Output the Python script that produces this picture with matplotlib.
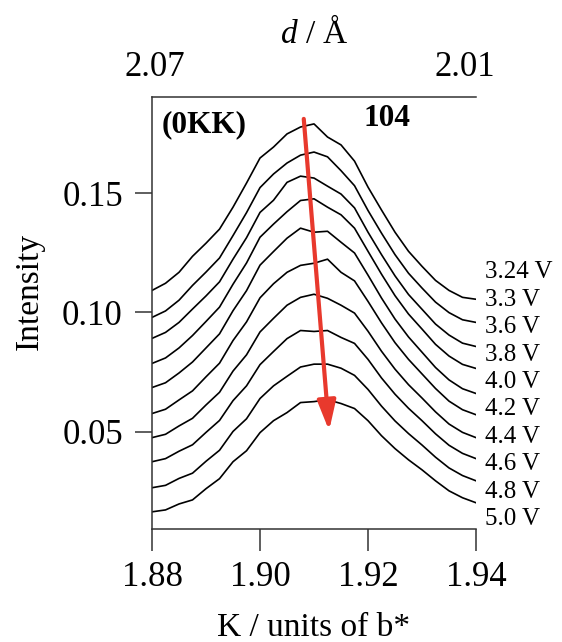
import matplotlib
matplotlib.use("Agg")
import matplotlib.pyplot as plt
import numpy as np

plt.rcParams['font.family'] = 'Liberation Serif'
plt.rcParams['mathtext.fontset'] = 'custom'
plt.rcParams['mathtext.rm'] = 'Liberation Serif'
plt.rcParams['mathtext.it'] = 'Liberation Serif:italic'

# K positions (units of b*)
k_vals = [1.8800, 1.8825, 1.8850, 1.8875, 1.8900, 1.8925, 1.8950, 1.8975,
          1.9000, 1.9025, 1.9050, 1.9075, 1.9100, 1.9125, 1.9150, 1.9175,
          1.9200, 1.9225, 1.9250, 1.9275, 1.9300, 1.9325, 1.9350, 1.9375, 1.9400]

voltages = ['3.24 V', '3.3 V', '3.6 V', '3.8 V', '4.0 V',
            '4.2 V', '4.4 V', '4.6 V', '4.8 V', '5.0 V']

# intensity profiles (offset stack), top to bottom
i_324 = [0.1092, 0.1122, 0.1168, 0.1235, 0.1290, 0.1349, 0.1441, 0.1542, 0.1647, 0.1693,
         0.1748, 0.1777, 0.1790, 0.1735, 0.1702, 0.1634, 0.1525, 0.1429, 0.1336, 0.1256,
         0.1193, 0.1134, 0.1092, 0.1063, 0.1055]
i_33 = [0.0979, 0.1006, 0.1051, 0.1113, 0.1169, 0.1228, 0.1322, 0.1418, 0.1523, 0.1580,
        0.1626, 0.1659, 0.1672, 0.1652, 0.1594, 0.1531, 0.1427, 0.1332, 0.1242, 0.1164,
        0.1102, 0.1043, 0.0999, 0.0969, 0.0958]
i_36 = [0.0891, 0.0916, 0.0958, 0.1014, 0.1069, 0.1128, 0.1223, 0.1313, 0.1419, 0.1470,
        0.1545, 0.1571, 0.1563, 0.1529, 0.1496, 0.1438, 0.1336, 0.1242, 0.1153, 0.1075,
        0.1013, 0.0951, 0.0905, 0.0871, 0.0857]
i_38 = [0.0786, 0.0809, 0.0851, 0.0903, 0.0962, 0.1022, 0.1118, 0.1207, 0.1315, 0.1370,
        0.1422, 0.1469, 0.1476, 0.1441, 0.1409, 0.1353, 0.1256, 0.1160, 0.1070, 0.0993,
        0.0930, 0.0866, 0.0817, 0.0782, 0.0765]
i_40 = [0.0685, 0.0705, 0.0746, 0.0792, 0.0851, 0.0910, 0.1007, 0.1091, 0.1198, 0.1255,
        0.1311, 0.1353, 0.1336, 0.1340, 0.1294, 0.1249, 0.1156, 0.1060, 0.0972, 0.0897,
        0.0833, 0.0769, 0.0717, 0.0680, 0.0660]
i_42 = [0.0576, 0.0594, 0.0633, 0.0671, 0.0730, 0.0787, 0.0882, 0.0960, 0.1061, 0.1120,
        0.1168, 0.1197, 0.1206, 0.1223, 0.1168, 0.1132, 0.1046, 0.0956, 0.0873, 0.0803,
        0.0742, 0.0681, 0.0628, 0.0592, 0.0571]
i_44 = [0.0475, 0.0489, 0.0524, 0.0556, 0.0612, 0.0665, 0.0754, 0.0822, 0.0918, 0.0975,
        0.1030, 0.1063, 0.1076, 0.1059, 0.1030, 0.0997, 0.0921, 0.0837, 0.0762, 0.0697,
        0.0641, 0.0583, 0.0532, 0.0497, 0.0475]
i_46 = [0.0374, 0.0387, 0.0418, 0.0445, 0.0497, 0.0547, 0.0630, 0.0692, 0.0781, 0.0836,
        0.0890, 0.0924, 0.0920, 0.0924, 0.0895, 0.0870, 0.0803, 0.0725, 0.0657, 0.0598,
        0.0546, 0.0491, 0.0443, 0.0409, 0.0387]
i_48 = [0.0265, 0.0275, 0.0304, 0.0326, 0.0376, 0.0422, 0.0501, 0.0554, 0.0639, 0.0692,
        0.0732, 0.0771, 0.0783, 0.0783, 0.0766, 0.0736, 0.0677, 0.0607, 0.0545, 0.0492,
        0.0444, 0.0393, 0.0348, 0.0316, 0.0294]
i_50 = [0.0164, 0.0172, 0.0197, 0.0214, 0.0261, 0.0303, 0.0374, 0.0420, 0.0496, 0.0546,
        0.0580, 0.0622, 0.0626, 0.0634, 0.0618, 0.0597, 0.0546, 0.0483, 0.0429, 0.0382,
        0.0340, 0.0294, 0.0252, 0.0223, 0.0202]

perfiles = [i_324, i_33, i_36, i_38, i_40, i_42, i_44, i_46, i_48, i_50]

# d-spacing labels on top axis
d_pos = [1.8806, 1.9380]
d_labels = ['2.07', '2.01']

# arrow showing the peak shift
flecha_ini = (1.9081, 0.1811)
flecha_fin = (1.9128, 0.0504)

fig = plt.figure(figsize=(5.62, 6.42), dpi=100)
ax = fig.add_axes([0.2705, 0.176, 0.5765, 0.673])

for perfil in perfiles:
    ax.plot(k_vals, perfil, color='black', lw=1.2, zorder=2)

ax.set_xlim(1.88, 1.94)
ax.set_ylim(0.0092, 0.1903)
ax.set_xticks([1.88, 1.90, 1.92, 1.94])
ax.set_yticks([0.05, 0.10, 0.15])
ax.xaxis.set_major_formatter('{x:.2f}')
ax.yaxis.set_major_formatter('{x:.2f}')

for s in ['left', 'bottom', 'top']:
    ax.spines[s].set_color('#333333')
    ax.spines[s].set_linewidth(1.1)
ax.spines['right'].set_visible(False)

ax.tick_params(axis='x', direction='out', length=16, width=1.1, labelsize=25,
               pad=7, color='#333333')
ax.tick_params(axis='y', direction='out', length=12, width=1.1, labelsize=25,
               pad=9, color='#333333')

ax.set_xlabel('K / units of b*', fontsize=24, labelpad=13)
ax.set_ylabel('Intensity', fontsize=24)
ax.yaxis.set_label_coords(-0.33, 0.55)

# eje superior con d / Å
ax2 = ax.twiny()
ax2.set_xlim(ax.get_xlim())
ax2.set_xticks(d_pos)
ax2.set_xticklabels(d_labels)
ax2.tick_params(axis='x', length=0, labelsize=25, pad=9)
for s in ax2.spines.values():
    s.set_visible(False)
ax2.set_xlabel(r'$d$ / Å', fontsize=24, labelpad=6)

# etiquetas
ax.text(0.030, 0.935, '(0KK)', transform=ax.transAxes, fontsize=22.5,
        fontweight='bold', va='center', ha='left')
ax.text(0.652, 0.951, '104', transform=ax.transAxes, fontsize=22.5,
        fontweight='bold', va='center', ha='left')

for lab, yy in zip(voltages, np.linspace(0.1168, 0.0134, len(voltages))):
    ax.text(1.028, yy, lab, transform=ax.get_yaxis_transform(), fontsize=18,
            va='center', ha='left', clip_on=False)

ax.annotate('', xy=flecha_fin, xytext=flecha_ini,
            arrowprops=dict(arrowstyle='-|>,head_width=0.28,head_length=0.9',
                            color='#e8392d', lw=3, mutation_scale=20,
                            shrinkA=0, shrinkB=0), zorder=5)

fig.savefig('out.png', dpi=100)
